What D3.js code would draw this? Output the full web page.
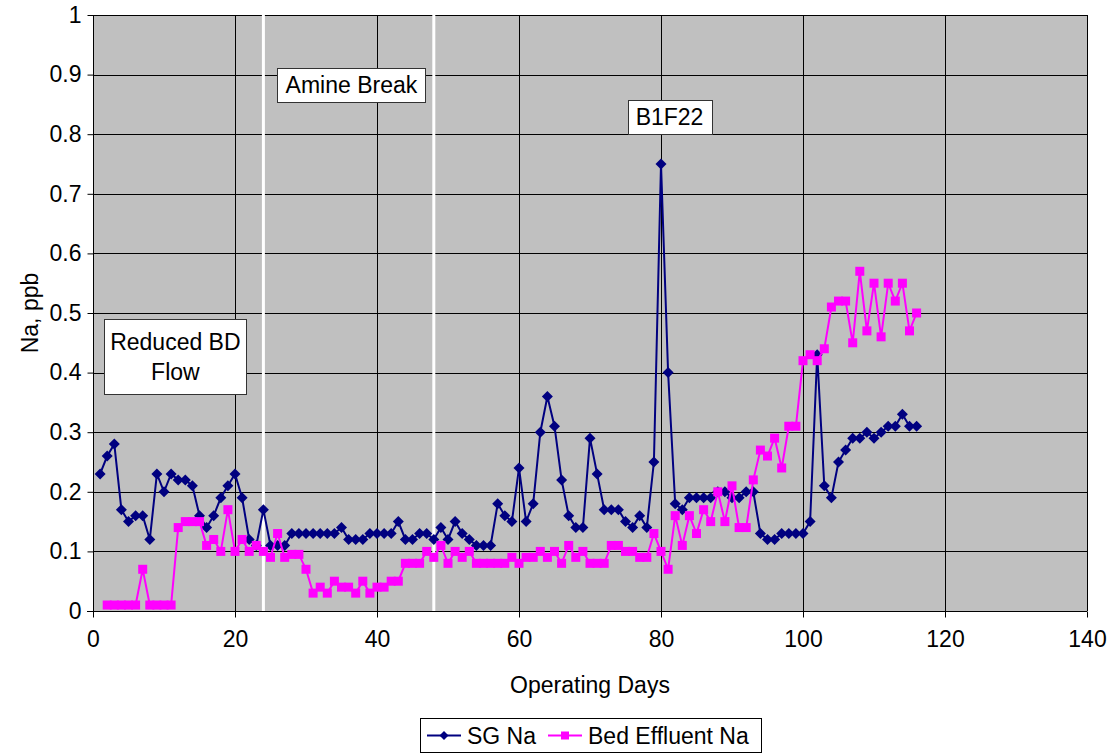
<!DOCTYPE html>
<html><head><meta charset="utf-8">
<script src="https://cdn.jsdelivr.net/npm/d3@7"></script>
<style>
body{margin:0;background:#fff;}
svg text{font-family:"Liberation Sans",Arial,sans-serif;fill:#000;}
</style></head>
<body>
<svg id="c" width="1112" height="755"></svg>
<script>
// ---- data ----
const sgDays = d3.range(1, 117);
const sgNa = [0.23,0.26,0.28,0.17,0.15,0.16,0.16,0.12,0.23,0.20,
  0.23,0.22,0.22,0.21,0.16,0.14,0.16,0.19,0.21,0.23,
  0.19,0.12,0.11,0.17,0.11,0.11,0.11,0.13,0.13,0.13,
  0.13,0.13,0.13,0.13,0.14,0.12,0.12,0.12,0.13,0.13,
  0.13,0.13,0.15,0.12,0.12,0.13,0.13,0.12,0.14,0.12,
  0.15,0.13,0.12,0.11,0.11,0.11,0.18,0.16,0.15,0.24,
  0.15,0.18,0.30,0.36,0.31,0.22,0.16,0.14,0.14,0.29,
  0.23,0.17,0.17,0.17,0.15,0.14,0.16,0.14,0.25,0.75,
  0.40,0.18,0.17,0.19,0.19,0.19,0.19,0.20,0.20,0.19,
  0.19,0.20,0.20,0.13,0.12,0.12,0.13,0.13,0.13,0.13,
  0.15,0.43,0.21,0.19,0.25,0.27,0.29,0.29,0.30,0.29,
  0.30,0.31,0.31,0.33,0.31,0.31];
const bedDays = d3.range(2, 117);
const bedNa = [0.01,0.01,0.01,0.01,0.01,0.07,0.01,0.01,0.01,
  0.01,0.14,0.15,0.15,0.15,0.11,0.12,0.10,0.17,0.10,
  0.12,0.10,0.11,0.10,0.09,0.13,0.09,0.095,0.095,0.07,
  0.03,0.04,0.03,0.05,0.04,0.04,0.03,0.05,0.03,0.04,
  0.04,0.05,0.05,0.08,0.08,0.08,0.10,0.09,0.11,0.08,
  0.10,0.09,0.10,0.08,0.08,0.08,0.08,0.08,0.09,0.08,
  0.09,0.09,0.10,0.09,0.10,0.08,0.11,0.09,0.10,0.08,
  0.08,0.08,0.11,0.11,0.10,0.10,0.09,0.09,0.13,0.10,
  0.07,0.16,0.11,0.16,0.13,0.17,0.15,0.20,0.15,0.21,
  0.14,0.14,0.22,0.27,0.26,0.29,0.24,0.31,0.31,0.42,
  0.43,0.42,0.44,0.51,0.52,0.52,0.45,0.57,0.47,0.55,
  0.46,0.55,0.52,0.55,0.47,0.50];
const xTicks = [0,20,40,60,80,100,120,140];
const yTicks = [0,0.1,0.2,0.3,0.4,0.5,0.6,0.7,0.8,0.9,1];
const eventDays = [24, 48];
const seriesNames = ["SG Na", "Bed Effluent Na"];
const notes = [
  {lines:["Reduced BD","Flow"], day:11.6, val:0.427},
  {lines:["Amine Break"], day:36.4, val:0.883},
  {lines:["B1F22"], day:81.2, val:0.829}
];

// ---- layout ----
const svg = d3.select("#c");
const L = 93, R = 1087, T = 15, B = 611;
const x = d3.scaleLinear().domain([0,140]).range([L,R]);
const y = d3.scaleLinear().domain([0,1]).range([B,T]);
const navy = "#000080", pink = "#FF00FF";
const FS = 23;

svg.append("rect").attr("x",L).attr("y",T).attr("width",R-L).attr("height",B-T).attr("fill","#C0C0C0");

// grid
svg.append("g").selectAll("line").data(yTicks).join("line")
  .attr("x1",L).attr("x2",R).attr("y1",d=>Math.round(y(d))+0.5).attr("y2",d=>Math.round(y(d))+0.5)
  .attr("stroke","#000").attr("stroke-width",1);
svg.append("g").selectAll("line").data(xTicks).join("line")
  .attr("y1",T).attr("y2",B).attr("x1",d=>Math.round(x(d))+0.5).attr("x2",d=>Math.round(x(d))+0.5)
  .attr("stroke","#000").attr("stroke-width",1);

// axes
const yAxis = d3.axisLeft(y).tickValues(yTicks).tickSize(6).tickPadding(6).tickFormat(d3.format("~g"));
const gy = svg.append("g").attr("transform",`translate(${L+0.5},0)`).call(yAxis);
const xAxis = d3.axisBottom(x).tickValues(xTicks).tickSize(6).tickPadding(13).tickFormat(d3.format("d"));
const gx = svg.append("g").attr("transform",`translate(0,${B+0.5})`).call(xAxis);
[gy,gx].forEach(g=>{
  g.selectAll("path").attr("stroke","#000");
  g.selectAll("line").attr("stroke","#000");
  g.selectAll("text").attr("font-size",FS).attr("font-family","Liberation Sans, Arial, sans-serif");
});
gy.select(".domain").remove();
gx.select(".domain").remove();
svg.append("line").attr("x1",L+0.5).attr("x2",L+0.5).attr("y1",T).attr("y2",B+6).attr("stroke","#000");
svg.append("line").attr("x1",L-6).attr("x2",R).attr("y1",B+0.5).attr("y2",B+0.5).attr("stroke","#000");

// event lines
svg.append("g").selectAll("line").data(eventDays).join("line")
  .attr("x1",d=>x(d)).attr("x2",d=>x(d)).attr("y1",T).attr("y2",B)
  .attr("stroke","#fff").attr("stroke-width",3);

// series
const diamond = (cx,cy,r)=>`M${cx},${cy-r}L${cx+r},${cy}L${cx},${cy+r}L${cx-r},${cy}Z`;
const sg = sgDays.map((d,i)=>[d,sgNa[i]]);
const bed = bedDays.map((d,i)=>[d,bedNa[i]]);
const line = d3.line().x(d=>x(d[0])).y(d=>y(d[1]));

svg.append("path").datum(sg).attr("d",line).attr("fill","none").attr("stroke",navy).attr("stroke-width",2);
svg.append("g").selectAll("path").data(sg).join("path")
  .attr("d",d=>diamond(x(d[0]),y(d[1]),5.5)).attr("fill",navy);

svg.append("path").datum(bed).attr("d",line).attr("fill","none").attr("stroke",pink).attr("stroke-width",2);
svg.append("g").selectAll("rect").data(bed).join("rect")
  .attr("x",d=>x(d[0])-4.5).attr("y",d=>y(d[1])-4.5).attr("width",9).attr("height",9).attr("fill",pink);

// annotations
notes.forEach(n=>{
  const g = svg.append("g");
  const cx = x(n.day), cy = y(n.val);
  const lh = 30;
  const t = g.append("text").attr("text-anchor","middle").attr("font-size",FS);
  n.lines.forEach((s,i)=>{
    t.append("tspan").attr("x",cx).attr("y",cy + 8 + (i-(n.lines.length-1)/2)*lh).text(s);
  });
  const bb = t.node().getBBox();
  const padX = n.lines.length>1 ? 6 : 8;
  const h = n.lines.length>1 ? 75 : 34;
  g.insert("rect","text").attr("x",Math.round(cx-bb.width/2-padX)+0.5).attr("y",Math.round(cy-h/2)+0.5)
    .attr("width",Math.round(bb.width+2*padX)).attr("height",h)
    .attr("fill","#fff").attr("stroke","#333").attr("stroke-width",1);
});

// axis titles
svg.append("text").attr("x",(L+R)/2).attr("y",693).attr("text-anchor","middle").attr("font-size",FS).text("Operating Days");
svg.append("text").attr("transform",`translate(38,${(T+B)/2}) rotate(-90)`).attr("text-anchor","middle").attr("font-size",FS).text("Na, ppb");

// legend
const lg = svg.append("g");
lg.append("rect").attr("x",420.5).attr("y",718.5).attr("width",341).attr("height",34).attr("fill","#fff").attr("stroke","#000");
const items = [
  {name:seriesNames[0], color:navy, x0:427, mk:"d"},
  {name:seriesNames[1], color:pink, x0:548, mk:"s"}
];
items.forEach(it=>{
  const my = 735.5;
  lg.append("line").attr("x1",it.x0).attr("x2",it.x0+34).attr("y1",my).attr("y2",my).attr("stroke",it.color).attr("stroke-width",2);
  if(it.mk==="d") lg.append("path").attr("d",diamond(it.x0+17,my,4.5)).attr("fill",it.color);
  else lg.append("rect").attr("x",it.x0+17-4).attr("y",my-4).attr("width",8).attr("height",8).attr("fill",it.color);
  lg.append("text").attr("x",it.x0+40).attr("y",743.5).attr("font-size",FS).text(it.name);
});
</script>
</body></html>
